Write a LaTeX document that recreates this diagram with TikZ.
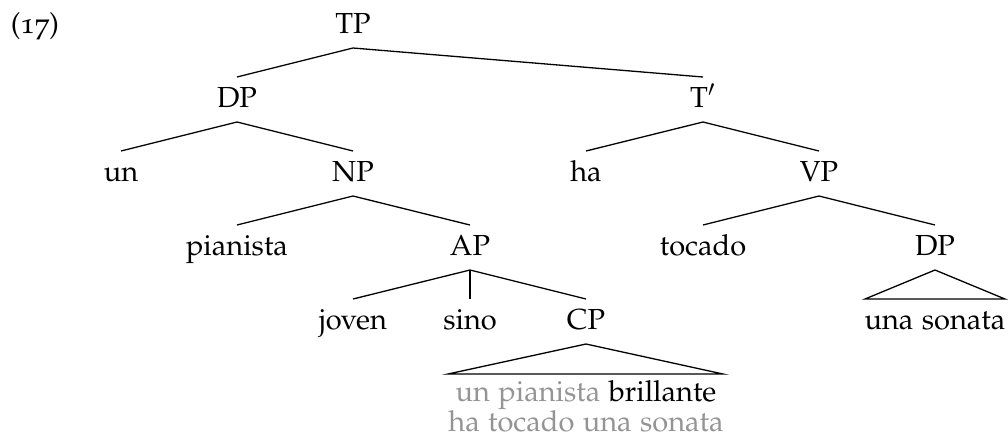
\documentclass[tikz,border=0pt]{standalone}
\usepackage[T1]{fontenc}
\usepackage[osf]{mathpazo}
\begin{document}
\begin{tikzpicture}[x=0.5pt,y=-0.5pt,
  lbl/.style={anchor=base,inner sep=0pt,font=\fontsize{14.5}{17}\selectfont},
  edge/.style={line width=0.65pt},
  faded/.style={text=black!42}]
\useasboundingbox (0,0) rectangle (1008,441);
\node[lbl] (ex) at (35,33) {(17)};
\node[lbl] (TP) at (353,33) {TP};
\node[lbl] (DP) at (237,107) {DP};
\node[lbl] (Tbar) at (703,107) {T$'$};
\node[lbl] (un) at (121,181) {un};
\node[lbl] (NP) at (353,181) {NP};
\node[lbl] (ha) at (586,181) {ha};
\node[lbl] (VP) at (819,181) {VP};
\node[lbl] (pianista) at (237,255) {pianista};
\node[lbl] (AP) at (470,255) {AP};
\node[lbl] (tocado) at (703,255) {tocado};
\node[lbl] (DPb) at (935,255) {DP};
\node[lbl] (joven) at (353,329) {joven};
\node[lbl] (sino) at (470,329) {sino};
\node[lbl] (CP) at (586,329) {CP};
\node[lbl] (sonata) at (935,329) {una sonata};
\node[lbl] (cp1) at (586,401) {\textcolor{black!42}{un pianista} brillante};
\node[lbl,faded] (cp2) at (586,431) {ha tocado una sonata};
\coordinate (cpl) at (448,374);
\coordinate (cpr) at (723,374);
\coordinate (dpl) at (865,299);
\coordinate (dpr) at (1005,299);
\draw[edge] ([yshift=15pt]DP.base) -- ([yshift=-7.5pt]TP.base) -- ([yshift=15pt]Tbar.base);
\draw[edge] ([yshift=15pt]un.base) -- ([yshift=-7.5pt]DP.base) -- ([yshift=15pt]NP.base);
\draw[edge] ([yshift=15pt]ha.base) -- ([yshift=-7.5pt]Tbar.base) -- ([yshift=15pt]VP.base);
\draw[edge] ([yshift=15pt]pianista.base) -- ([yshift=-7.5pt]NP.base) -- ([yshift=15pt]AP.base);
\draw[edge] ([yshift=15pt]tocado.base) -- ([yshift=-7.5pt]VP.base) -- ([yshift=15pt]DPb.base);
\draw[edge] ([yshift=15pt]joven.base) -- ([yshift=-7.5pt]AP.base) -- ([yshift=15pt]CP.base);
\draw[edge] ([yshift=-7.5pt]AP.base) -- ([yshift=15pt]sino.base);
\draw[edge] ([yshift=-7.5pt]CP.base) -- (cpl) -- (cpr) -- cycle;
\draw[edge] ([yshift=-7.5pt]DPb.base) -- (dpl) -- (dpr) -- cycle;
\end{tikzpicture}
\end{document}
